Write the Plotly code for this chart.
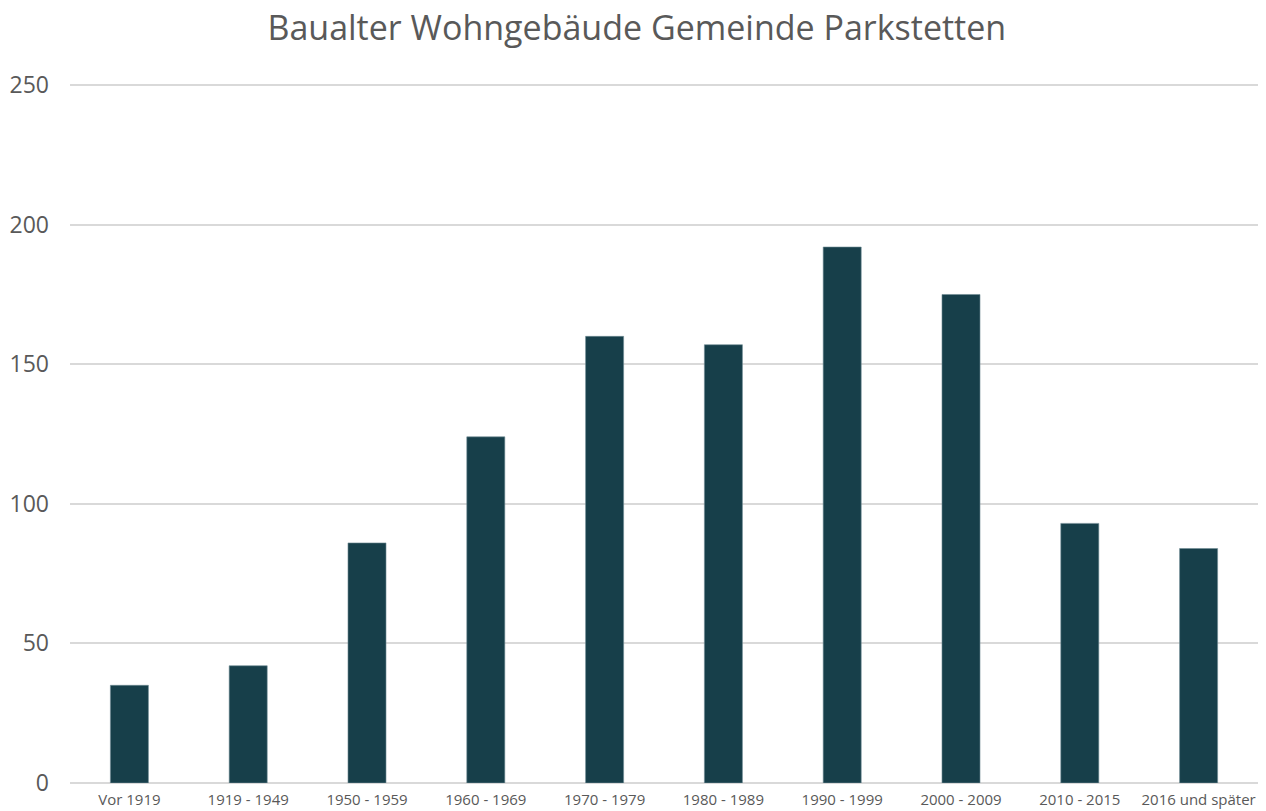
import plotly.graph_objects as go

categories = ["Vor 1919", "1919 - 1949", "1950 - 1959", "1960 - 1969", "1970 - 1979",
              "1980 - 1989", "1990 - 1999", "2000 - 2009", "2010 - 2015", "2016 und später"]
values = [35, 42, 86, 124, 160, 157, 192, 175, 93, 84]
y_ticks = [0, 50, 100, 150, 200, 250]

font = "Open Sans, Roboto, Liberation Sans, sans-serif"

fig = go.Figure(go.Bar(
    x=categories, y=values,
    marker=dict(color="#173f4a", line=dict(color="#6f8c94", width=0.6)),
))

fig.update_layout(
    width=1266, height=811,
    paper_bgcolor="white", plot_bgcolor="white",
    margin=dict(l=70, r=8, t=84, b=28, autoexpand=False),
    bargap=0.68,
    showlegend=False,
    title=dict(text="Baualter Wohngebäude Gemeinde Parkstetten",
               x=0.503, xanchor="center", y=0.9655, yanchor="middle",
               font=dict(family=font, size=34, color="#595959")),
    xaxis=dict(showgrid=False, showline=False, ticks="", automargin=False,
               ticklabelstandoff=6,
               tickfont=dict(family=font, size=15, color="#595959")),
    yaxis=dict(range=[0, 250.4], tickvals=y_ticks, showgrid=True, automargin=False,
               gridcolor="#d9d9d9", gridwidth=1.5,
               zeroline=True, zerolinecolor="#d9d9d9", zerolinewidth=1.5,
               showline=False, ticks="", ticklabelstandoff=20,
               tickfont=dict(family=font, size=23, color="#595959")),
)

fig.write_html("out.html", config={"displayModeBar": False},
               post_script="document.body.style.margin='0';")
